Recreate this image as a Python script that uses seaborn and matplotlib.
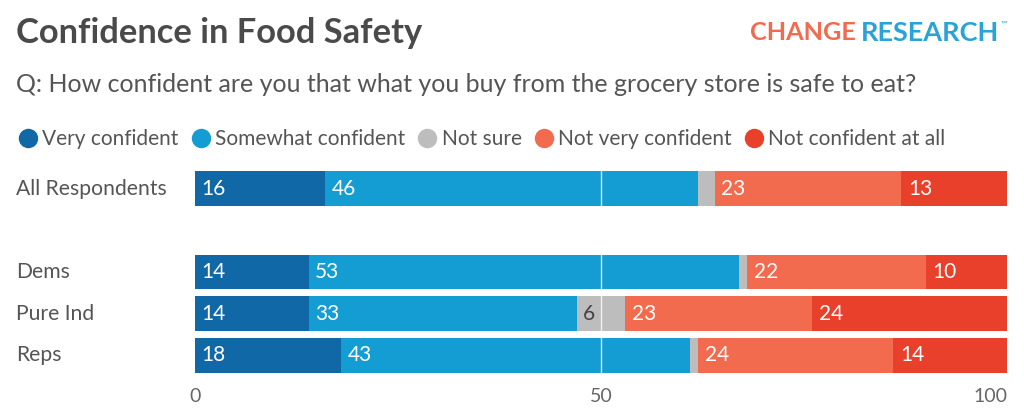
import pandas as pd
import matplotlib.pyplot as plt
import matplotlib.transforms as mtransforms
from matplotlib.lines import Line2D
import seaborn as sns

# Data
groups = ['All Respondents', 'Dems', 'Pure Ind', 'Reps']
series = ['Very confident', 'Somewhat confident', 'Not sure',
          'Not very confident', 'Not confident at all']
very_confident = [16, 14, 14, 18]
somewhat_confident = [46, 53, 33, 43]
not_sure = [2, 1, 6, 1]
not_very_confident = [23, 22, 23, 24]
not_confident_at_all = [13, 10, 24, 14]

colors = ['#1168a6', '#149dd3', '#bdbdbd', '#f26b4f', '#e8402b']
order = ['All Respondents', ' ', 'Dems', 'Pure Ind', 'Reps']

values = [very_confident, somewhat_confident, not_sure,
          not_very_confident, not_confident_at_all]

rows = []
for s, vals in zip(series, values):
    for g, v in zip(groups, vals):
        rows.append({'group': g, 'series': s, 'value': v})
df = pd.DataFrame(rows)
df['cum'] = df.groupby('group')['value'].cumsum()
df['start'] = df['cum'] - df['value']

sns.set_theme(style='white')
plt.rcParams['font.family'] = ['Lato', 'DejaVu Sans']

fig = plt.figure(figsize=(10.24, 4.17), dpi=100)
ax = fig.add_axes([195 / 1024, 44 / 417, 812 / 1024, 202 / 417])

# stacked bars: draw cumulative totals from the last series backwards
for s, c in reversed(list(zip(series, colors))):
    sub = df[df['series'] == s]
    sns.barplot(data=sub, x='cum', y='group', order=order, orient='h',
                color=c, saturation=1, width=0.83, edgecolor='none',
                linewidth=0, ax=ax)

ax.axvline(50, color='white', lw=1, alpha=0.8, zorder=5)

# segment labels
pos = {g: order.index(g) for g in groups}
for _, r in df.iterrows():
    if r['value'] < 3:
        continue
    txt_color = '#444444' if r['series'] == 'Not sure' else 'white'
    ax.text(r['start'] + 0.8, pos[r['group']], str(r['value']),
            color=txt_color, fontsize=15, va='center', ha='left', zorder=6)

ax.set_xlim(0, 100)
ax.set_ylim(4.42, -0.42)
ax.set_xticks([0, 50, 100])
ax.set_xticklabels(['0', '50', '100'], fontsize=14, color='#666666')
ax.get_xticklabels()[-1].set_ha('right')
ax.tick_params(axis='x', length=0, pad=11)
ax.set_yticks([])
ax.set_xlabel('')
ax.set_ylabel('')
sns.despine(ax=ax, left=True, bottom=True)

# category labels on the left
trans = mtransforms.blended_transform_factory(fig.transFigure, ax.transData)
for g in groups:
    ax.text(16 / 1024, pos[g], g, transform=trans, fontsize=15.2,
            color='#555555', va='center', ha='left')

# title, subtitle, logo
fig.text(16 / 1024, 1 - 33 / 417, 'Confidence in Food Safety', fontsize=24.8,
         fontweight='bold', color='#4a4a4a', va='center', ha='left')
fig.text(16 / 1024, 1 - 84 / 417,
         'Q: How confident are you that what you buy from the grocery store is safe to eat?',
         fontsize=18, color='#555555', va='center', ha='left')
fig.text(856 / 1024, 1 - 33 / 417, 'CHANGE', fontsize=18.2, fontweight='bold',
         color='#f26b4f', va='center', ha='right')
fig.text(999 / 1024, 1 - 33 / 417, 'RESEARCH', fontsize=19.5, fontweight='bold',
         color='#2aa3d8', va='center', ha='right')
fig.text(1001 / 1024, 1 - 24 / 417, '™', fontsize=6, color='#2aa3d8',
         va='center', ha='left')

# legend
handles = [Line2D([0], [0], marker='o', color='none', markerfacecolor=c,
                  markeredgecolor='none', markersize=14) for c in colors]
fig.legend(handles, series, loc='center left',
           bbox_to_anchor=(8 / 1024, 1 - 139 / 417), ncol=5, frameon=False,
           fontsize=15, handletextpad=0.15, columnspacing=0.5,
           handlelength=1.1, labelcolor='#555555', borderaxespad=0)

fig.savefig('out.png', dpi=100, facecolor='white')
